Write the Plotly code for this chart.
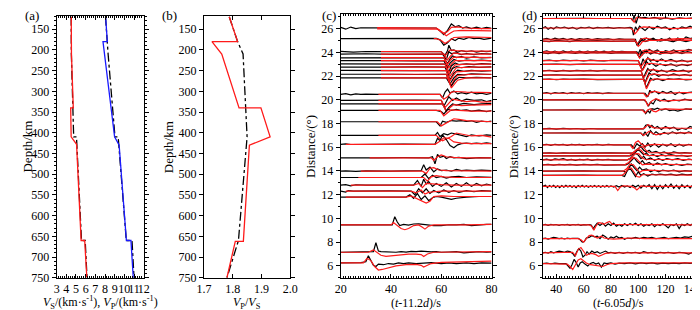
import plotly.graph_objects as go

# ---------------- data: panel (a) ----------------
VS_DEPTH = [120, 180, 210, 340, 340, 410, 428, 660, 660, 750]
VS_MODEL = [4.51, 4.53, 4.53, 4.72, 4.45, 4.50, 5.06, 5.53, 5.90, 6.12]
VS_REF_DEPTH = [120, 210, 410, 410, 660, 660, 750]
VS_REF = [4.50, 4.52, 4.76, 5.05, 5.57, 5.95, 6.14]
VP_DEPTH = [120, 180, 180, 410, 430, 660, 660, 750]
VP_MODEL = [8.06, 8.24, 7.79, 8.99, 9.46, 10.21, 10.68, 10.92]
VP_REF_DEPTH = [120, 210, 410, 410, 660, 660, 750]
VP_REF = [8.05, 8.32, 9.03, 9.36, 10.20, 10.79, 11.00]

# ---------------- data: panel (b) ----------------
R_DEPTH = [120, 180, 180, 210, 340, 340, 410, 430, 662, 662, 750]
R_MODEL = [1.788, 1.817, 1.728, 1.762, 1.822, 1.898, 1.930, 1.858, 1.837, 1.809, 1.780]
R_REF_DEPTH = [120, 180, 210, 300, 410, 660, 750]
R_REF = [1.788, 1.817, 1.836, 1.843, 1.850, 1.820, 1.780]

# ---------------- data: panel (c) waveforms (time, amplitude pairs) ----------------
C_DIST = [26.05, 25.95, 25.15, 24.05, 23.85, 23.55, 23.3, 23.0, 22.75, 22.45, 22.15, 21.85,
          20.45, 19.95, 19.65, 19.1, 18.15, 17.0, 16.25, 15.1, 13.98, 13.45, 12.8, 12.3, 11.8,
          9.45, 7.15, 6.25]
C_BLACK = [
    [20,0.05, 22,-0.1, 24,0.08, 26,-0.05, 28,0.02, 40,0, 52,0.02, 58,0, 59.5,-0.25, 61,-0.55, 62.5,-0.2, 64,0.35, 65.5,0.1, 67,0.2, 68.5,0, 70,0.1, 72,-0.05, 74,0.08, 76,-0.05, 78,0.05, 80,-0.02],
    None,
    [20,0, 30,0.02, 40,-0.02, 50,0, 58,0.02, 59.5,-0.1, 61,-0.55, 62.5,-0.35, 64,0, 65.5,-0.15, 67,0.05, 69,-0.05, 71,0.1, 73,0, 75,0.05, 77,-0.05, 80,0.05],
    [20,0.03, 25,-0.03, 30,0.02, 40,0, 50,0.02, 60,0, 61.5,-0.3, 62.5,0.1, 63,0.55, 64,0.1, 65,0.15, 66.5,-0.05, 68,0.1, 70,0, 72,0.08, 74,-0.03, 76,0.05, 78,0, 80,0.05],
    [20,0, 30,0.03, 40,-0.02, 50,0, 60.5,0, 62,-0.45, 63,0.2, 64,0.05, 66,0.1, 68,-0.05, 70,0.05, 73,-0.05, 76,0.05, 80,0],
    [20,-0.02, 30,0, 40,0.02, 50,0, 61,0, 62.5,-0.5, 63.5,-0.1, 64.5,0.15, 66,0, 68,0.08, 70,-0.04, 73,0.06, 76,-0.02, 80,0.03],
    [20,0, 30,0.02, 40,0, 50,-0.02, 61,0, 62.5,-0.6, 63.5,-0.2, 65,0.1, 67,-0.05, 70,0.05, 73,0, 76,0.05, 80,-0.02],
    [20,0.02, 30,0, 40,0.02, 50,0, 61.5,0, 63,-0.65, 64,-0.15, 65.5,0.1, 67,-0.03, 70,0.03, 73,-0.03, 76,0.04, 80,0],
    [20,0, 30,-0.02, 40,0, 50,0.02, 61.5,0, 63,-0.7, 64.5,-0.1, 66,0.05, 68,-0.05, 71,0.05, 75,-0.02, 80,0.03],
    [20,0.02, 30,0, 40,-0.02, 50,0, 62,0, 63.5,-0.75, 65,-0.2, 66.5,0.05, 69,-0.05, 72,0.03, 76,-0.03, 80,0],
    [20,0, 30,0.02, 40,0, 50,-0.02, 62,0, 63.5,-0.8, 65,-0.3, 66.5,0, 69,-0.05, 72,0.03, 76,0, 80,-0.02],
    [20,0, 30,0, 40,0.02, 50,0, 62,0, 64,-0.7, 65.5,-0.2, 67,0.05, 70,0, 74,0.03, 80,0],
    [20,0, 22,0.06, 24,-0.04, 26,0.05, 28,0, 30,0.03, 35,0, 45,0.02, 55,0, 59.5,0, 60.5,-0.3, 61.5,0.2, 62.5,0.45, 63.5,0.1, 65,0.3, 66.5,0.05, 68,0.15, 70,0.05, 72,0.2, 74,0.05, 76,0.1, 78,0, 80,0.1],
    [20,0, 30,0.02, 40,0, 50,0.02, 60,0, 61,-0.5, 62,-0.1, 63,0.3, 64.5,0, 66,0.2, 68,-0.05, 70,0.1, 73,0, 76,0.05, 78,-0.1, 80,0],
    [20,0, 40,0, 60.5,0, 62,-0.6, 63,-0.3, 64.5,0, 66,-0.1, 69,0.05, 73,-0.05, 76,0, 80,0.05],
    [20,0, 40,0.02, 58,0, 60,-0.1, 61,-0.3, 62.5,0.1, 64,0, 66,0.1, 68,0, 70,0.05, 72,-0.05, 75,0.03, 78,-0.1, 80,0],
    [20,0, 30,0.02, 45,0, 58,0, 59.5,-0.35, 60.5,0.05, 62,-0.05, 64,0.1, 66,0.05, 68,0.1, 70,0.02, 72,0.08, 74,-0.05, 76,0.05, 78,0, 80,0.05],
    [20,0, 30,0.02, 45,0, 57.5,0, 58.5,0.25, 59.5,-0.1, 61,0.15, 62.5,0.05, 64,0.2, 66,0.1, 68,0, 70,-0.1, 72,0.05, 75,-0.05, 78,0.05, 80,0],
    [20,0, 22,0.03, 24,-0.02, 30,0, 45,0.02, 57.5,0, 58.5,0.5, 59.5,0.3, 60.5,0.8, 62,0.4, 63.5,-0.1, 65,-0.3, 66.5,-0.05, 68,0.05, 70,0.1, 72,0.05, 74,0.1, 76,0.05, 78,0.12, 80,0.05],
    [20,0, 25,0.02, 35,0, 45,0.02, 55,0, 56.5,0.1, 57.5,-0.5, 58.5,0.3, 59.5,0.05, 61,0.15, 62,-0.05, 63.5,0.1, 65,0, 67,0.05, 70,-0.05, 75,0.03, 80,0],
    [20,0, 22,0.03, 26,-0.02, 30,0.02, 40,0, 50,0.02, 52,0.05, 53,0.55, 54,0.1, 55.5,0.35, 57,-0.05, 58.5,0.2, 60,0.05, 62,0.1, 64,0, 66,0.15, 68,0.05, 70,0.1, 73,0.05, 76,0.1, 80,0.05],
    [20,0, 30,0.02, 40,0, 52,0, 53.5,0.3, 55,-0.1, 56.5,0.2, 58,0, 60,0.1, 62,-0.05, 64,0.05, 67,0.1, 70,0, 74,0.05, 78,0, 80,0.02],
    [20,0, 22,0.05, 24,-0.05, 26,0.04, 30,0, 45,0.02, 49,0, 50.5,0.4, 52,-0.1, 53,0.5, 54,0.1, 55,0.3, 56.5,-0.1, 58,0.15, 60,-0.1, 62,0.2, 64,-0.15, 66,0.15, 68,-0.1, 70,0.2, 72,-0.1, 74,0.15, 76,-0.05, 78,0.1, 80,0],
    [20,0, 22,-0.08, 23,0.05, 25,0, 40,0.02, 48,0, 49.5,-0.3, 51,0.2, 52.5,-0.15, 54,0.2, 55.5,-0.2, 57,0.05, 59,-0.15, 61,0.1, 63,-0.1, 65,0.05, 67,-0.1, 70,0.05, 73,-0.05, 76,0.05, 80,0],
    [20,0, 30,0.02, 40,0, 46,0, 47.5,0.2, 49,-0.1, 50.5,0.3, 52,-0.2, 53.5,0.1, 55,-0.3, 56.5,-0.05, 58,0.05, 60,0, 62,-0.1, 64,-0.2, 66,-0.1, 70,0, 75,0.05, 80,0.05],
    [20,0, 30,0.01, 40.5,0, 41.5,0.7, 42.5,0.25, 43.5,-0.05, 45,0.05, 47,-0.02, 49,0.08, 51,0.1, 53,0.05, 55,0, 57,-0.05, 60,-0.05, 63,0.02, 66,0, 69,0.05, 72,-0.05, 75,0.02, 78,0.05, 80,0.05],
    [20,0, 25,0.02, 30,0, 33,0.05, 34,0.8, 35,0.1, 36,0.05, 38,0.02, 40,0.05, 42,0, 44,0.05, 46,0.02, 48,0.07, 50,0.05, 52,0.1, 54,0.05, 56,0.03, 58,0.05, 60,0, 63,0.02, 66,0.05, 69,-0.05, 72,0, 75,0.05, 78,0, 80,0.02],
    [20,0, 25,0, 28,0.02, 30,0.1, 31,0.6, 32,0.2, 33,-0.2, 34,-0.3, 35,-0.1, 37,-0.15, 39,-0.05, 41,-0.1, 43,0, 45,-0.05, 47,0, 50,-0.05, 53,0, 56,0.02, 60,-0.05, 63,0, 66,-0.05, 70,0, 73,-0.05, 76,0, 80,-0.02],
]
C_RED = [
    [34.5,0.03, 58,0, 59.5,-0.2, 61,-0.45, 62.5,-0.3, 64,0.05, 66,0.1, 70,0, 75,-0.05, 80,-0.05],
    [34.5,0.02, 58.5,0, 60.5,-0.3, 62,-0.55, 63.5,-0.35, 65,-0.15, 68,-0.1, 80,-0.15],
    [57,0, 58,0, 60,-0.15, 61.5,-0.4, 63,-0.2, 65,0.1, 70,0.15, 80,0.1],
    [36,0.02, 60,0, 61.5,-0.35, 62.5,-0.1, 63.5,0.15, 66,0.1, 70,0.05, 80,0.05],
    [36,0, 61,0, 62.5,-0.5, 63.5,-0.2, 65,0.1, 68,0, 80,0],
    [36,0, 61,0, 62.5,-0.55, 63.5,-0.25, 65,0.05, 70,0.02, 80,0],
    [36,0, 61.5,0, 63,-0.6, 64,-0.3, 65.5,0, 70,0, 80,0],
    [36,0, 61.5,0, 63,-0.7, 64,-0.4, 65.5,-0.05, 70,0, 80,0],
    [36,0, 62,0, 63.5,-0.75, 64.5,-0.45, 66,-0.05, 72,0, 80,0],
    [36,0, 62,0, 63.5,-0.85, 64.5,-0.5, 66,-0.1, 72,-0.02, 80,0],
    [36,0, 62,0, 64,-0.95, 65,-0.5, 66.5,-0.1, 72,0, 80,0],
    [36,0, 62.5,0, 64,-0.85, 65,-0.6, 66.5,-0.2, 70,0, 80,0],
    [35,0, 59.5,0, 61,-0.4, 62.5,-0.2, 64,0.2, 66,0.25, 70,0.2, 75,0.15, 80,0.15],
    [35,0, 60,0, 61.5,-0.6, 63,-0.2, 64.5,0.1, 67,0, 70,-0.1, 73,-0.05, 76,-0.15, 80,-0.1],
    [35,0, 60.5,0, 62,-0.65, 63.5,-0.3, 65,-0.05, 68,-0.15, 72,-0.1, 80,-0.05],
    [35,0, 59.5,0, 61,-0.45, 62.5,-0.2, 64,0.05, 67,0, 72,-0.05, 80,-0.05],
    [35,0, 58.5,0, 60,-0.35, 61.5,-0.15, 63,0.05, 65,0.25, 67,0.2, 70,0.1, 75,0.05, 80,0],
    [35,0, 58,0, 59.5,-0.3, 60.5,-0.45, 62,-0.3, 64,-0.1, 66,0.2, 68,0.1, 72,-0.05, 76,0, 80,-0.15],
    [22,0, 57.5,0, 59,0.2, 61,0.55, 63,0.5, 65,0.2, 68,0.1, 72,0.05, 80,0.05],
    [31.5,0, 56,0, 57,-0.2, 58.5,0.1, 60,0.25, 62,0.1, 65,0.05, 70,0, 80,0],
    [28,0, 52.5,0, 54,-0.2, 55.5,0.25, 57,0.3, 59,0.1, 62,0.05, 70,0.02, 80,0],
    [27,0, 53,0, 54.5,-0.3, 56,0.05, 58,0.15, 61,0.05, 66,0, 80,0],
    [24,0, 49,0, 51,0.15, 52.5,-0.2, 54,0.15, 56,0.1, 60,0.05, 65,0, 80,0],
    [22,0, 48,0, 50,-0.15, 52,0.1, 53.5,-0.25, 55,-0.1, 57,-0.05, 60,0, 80,0],
    [22,0, 46,0, 48,0.1, 50,-0.1, 52.5,-0.3, 54,-0.5, 55.5,-0.35, 57,0.05, 60,0.1, 65,0.05, 80,0.05],
    [20,0, 40,0, 41,0.2, 42,0.05, 44,-0.3, 45.5,-0.4, 47,-0.3, 49,-0.05, 51,0, 52.5,-0.2, 53.5,-0.35, 55,-0.1, 57,0, 60,0.02, 70,0, 80,0.05],
    [20,0, 31,0, 33,0.2, 34.5,-0.05, 36,-0.25, 38,-0.35, 40,-0.3, 43,-0.2, 47,-0.15, 50,-0.15, 52,-0.2, 53,-0.35, 54.5,-0.15, 57,0, 62,0.02, 70,0.03, 80,0.05],
    [20,0, 29,0, 30.5,0.4, 32,0.2, 33.5,-0.3, 35,-0.6, 36.5,-0.55, 39,-0.4, 42,-0.25, 46,-0.15, 50,-0.12, 52,-0.2, 53,-0.35, 54.5,-0.2, 56,-0.05, 60,0.05, 70,0.1, 80,0.15],
]

# ---------------- data: panel (d) waveforms ----------------
D_DIST = [26.85, 26.05, 25.1, 24.95, 24.05, 23.95, 23.3, 22.98, 22.44, 22.08, 21.72,
          20.55, 20.0, 19.14, 17.55, 17.2, 16.2, 15.5, 15.27, 14.94, 14.52, 13.98, 13.63,
          12.7, 9.45, 8.3, 7.1, 6.2]
D_BLACK = [
    [30,0, 40,0.02, 50,0, 60,0.02, 70,0, 80,0.02, 90,0, 95,0, 96,-0.2, 97,0.3, 98.5,-0.4, 100,0.2, 102,0.05, 105,0.1, 108,0, 112,0.1, 116,-0.05, 120,0.05, 125,-0.05, 130,0.05, 135,0, 140,0.05, 143,0],
    [30,0, 32,0.1, 34,-0.1, 36,0.05, 38,-0.08, 40,0.1, 43,0, 46,0.08, 49,-0.05, 52,0.05, 55,-0.1, 58,0.05, 61,0, 64,0.08, 67,-0.05, 70,0.05, 74,0, 78,0.05, 82,-0.03, 86,0.04, 90,0, 94,0.05, 95.5,0, 96.5,-0.6, 98,0.1, 99.5,-0.2, 101,0.15, 103,-0.05, 105,-0.2, 108,0.1, 111,-0.1, 114,0.15, 117,0, 120,0.1, 123,-0.15, 126,0.05, 129,-0.1, 132,0.1, 135,0, 138,0.15, 141,0, 143,0.1],
    [30,0, 33,0.08, 36,-0.05, 39,0.1, 42,0, 45,0.08, 48,-0.05, 51,0.05, 54,-0.05, 57,0.05, 60,0, 63,0.06, 66,-0.04, 70,0.05, 74,0, 78,0.04, 82,-0.04, 86,0.03, 90,0, 96,0.02, 98,0, 99,-0.5, 100.5,-0.2, 102,0.05, 104,-0.1, 106,0.1, 108,-0.05, 111,0.1, 114,-0.15, 117,0.05, 120,-0.1, 123,0.1, 126,-0.2, 129,0.1, 132,-0.1, 135,0.2, 138,0.05, 141,0.15, 143,0.05],
    [30,0, 35,-0.05, 40,0.05, 45,0, 50,-0.05, 55,0.05, 60,0, 70,0.03, 80,-0.02, 90,0, 98,0, 99.5,-0.4, 101,-0.1, 103,0.1, 105,-0.05, 108,0.05, 112,0.15, 116,0, 120,0.1, 125,-0.05, 130,0.1, 135,-0.05, 140,0.1, 143,0],
    [30,0, 33,0.08, 36,-0.05, 39,0.06, 42,-0.06, 45,0.08, 48,-0.04, 51,0.06, 54,-0.06, 57,0.05, 60,-0.05, 63,0.06, 66,-0.05, 69,0.07, 72,-0.04, 75,0.05, 78,-0.05, 81,0.05, 84,0, 88,0.04, 92,0, 97,0.02, 99,0, 100,-0.2, 101.5,0.2, 103,-0.3, 104.5,0.1, 106,-0.1, 108,0.2, 111,0, 114,0.15, 117,-0.1, 120,0.1, 123,0, 126,0.15, 130,-0.1, 133,0.05, 137,0.2, 140,0.1, 143,0.15],
    [30,0, 34,-0.06, 38,0.05, 42,-0.05, 46,0.06, 50,0, 54,-0.05, 58,0.05, 62,-0.03, 66,0.05, 70,0, 75,0.04, 80,-0.03, 85,0.03, 90,0, 99,0, 101,-0.4, 102.5,0.1, 104,-0.05, 106,0.15, 109,-0.1, 112,0.05, 116,-0.1, 120,0.05, 124,-0.05, 128,0.1, 132,-0.05, 136,0.1, 140,0, 143,0.05],
    [30,0, 35,0.04, 40,-0.03, 45,0.04, 50,0, 55,0.03, 60,-0.03, 65,0.04, 70,0, 75,-0.03, 80,0.03, 85,0, 90,0.02, 100,0, 102,-0.45, 103.5,0.15, 105,-0.2, 107,0.25, 109,-0.05, 111,0.1, 114,-0.1, 117,0.15, 120,-0.05, 124,0.1, 128,-0.1, 132,0.05, 136,-0.1, 140,0, 143,-0.05],
    [30,0, 40,0.03, 50,-0.02, 60,0.03, 70,0, 80,0.02, 90,0, 101,0, 103,-0.5, 104.5,-0.1, 106,0.25, 108,0, 110,0.1, 113,-0.15, 116,0.05, 120,-0.1, 124,0.05, 128,-0.15, 132,0, 136,-0.1, 140,0.05, 143,0],
    [30,0, 35,0.05, 40,-0.04, 45,0.04, 50,-0.03, 55,0.04, 60,0, 65,0.03, 70,-0.03, 75,0.03, 80,0, 85,0.02, 90,0, 102,0, 104,-0.55, 105.5,-0.15, 107,0.2, 109,-0.05, 111,0.15, 114,-0.1, 117,0.05, 121,-0.1, 125,0.1, 129,-0.05, 133,0.05, 137,-0.1, 140,0.05, 143,0],
    [30,0, 40,0.03, 50,-0.03, 60,0.02, 70,0, 80,0.02, 90,0, 103,0, 105,-0.65, 106.5,-0.2, 108,0.2, 110,0, 112,0.1, 115,-0.1, 118,0.05, 122,-0.05, 126,0.1, 130,-0.05, 134,0.05, 138,-0.05, 143,0.02],
    [30,0, 35,0.03, 40,-0.03, 45,0.02, 50,0, 60,0.03, 70,-0.02, 80,0.02, 90,0, 104,0, 106,-0.7, 107.5,-0.3, 109,0.1, 111,-0.05, 114,0.05, 118,-0.1, 122,0.05, 126,0, 130,0.05, 135,-0.05, 140,0, 143,0.02],
    [30,0, 33,0.06, 36,-0.05, 39,0.06, 42,0, 45,0.05, 48,-0.04, 51,0.05, 54,0, 57,0.04, 60,-0.04, 63,0.05, 66,0, 70,0.04, 74,-0.03, 78,0.03, 82,0, 86,0.03, 90,0, 105,0, 107,-0.3, 108.5,0.25, 110,0.05, 112,0.2, 115,-0.05, 118,0.15, 121,0, 124,0.15, 127,-0.1, 130,0.1, 133,-0.05, 136,0.05, 140,0.1, 143,0.05],
    [30,0, 40,0.02, 50,0, 60,0.02, 70,0, 80,0.02, 90,0, 104,0, 106,-0.2, 107.5,-0.55, 109,-0.2, 111,-0.35, 113,0.05, 116,-0.1, 119,0.05, 122,-0.15, 126,0, 130,-0.1, 134,0.05, 138,-0.05, 143,0],
    [30,0, 40,0.02, 50,0, 60,0.02, 70,0, 80,0.02, 90,0, 104,0, 105.5,-0.3, 107,-0.05, 108.5,-0.25, 110,0.1, 112,0.05, 114,0.15, 117,0, 120,0.1, 123,-0.05, 126,0, 129,-0.1, 132,0, 135,0.1, 138,0.05, 143,0.1],
    [30,0, 35,0.04, 40,-0.03, 45,0.04, 50,0, 55,0.03, 60,-0.03, 65,0.03, 70,0, 80,0.02, 90,-0.02, 100,0, 104,0, 105.5,0.3, 107,0.35, 108.5,0.1, 110,0.3, 112,0.05, 114,0.2, 117,-0.05, 120,0.2, 123,0, 126,0.15, 129,-0.1, 132,0.05, 135,-0.05, 138,0.2, 141,0.1, 143,0.15],
    [30,0, 40,0.02, 50,0, 60,0.02, 70,0, 80,0.02, 90,0, 102,0, 103.5,-0.2, 105,0.1, 107,-0.3, 109,0.2, 111,-0.1, 113,0.1, 116,-0.15, 119,0.05, 122,-0.1, 125,0.1, 128,-0.05, 131,0.05, 134,-0.05, 137,0.1, 140,-0.05, 143,0],
    [30,0, 33,0.05, 36,-0.04, 39,0.05, 42,0, 45,0.04, 48,-0.05, 51,0.04, 54,0, 57,0.04, 60,-0.04, 63,0.03, 66,0, 70,0.04, 74,-0.03, 78,0.04, 82,0, 86,0.03, 90,0, 95,0, 97,-0.3, 99,0.1, 101,-0.1, 103,0.1, 105,-0.2, 107,0.15, 109,-0.15, 112,0.1, 115,-0.2, 118,0.05, 121,-0.1, 124,0.1, 127,-0.15, 130,0.05, 133,-0.1, 137,0.05, 140,-0.05, 143,0],
    [30,0, 35,0.03, 40,-0.02, 45,0.03, 50,0, 60,0.02, 70,0, 80,0.02, 90,0, 96,0, 98,0.2, 100,0.4, 102,0.55, 104,0.25, 106,0.1, 108,0.25, 110,0.05, 113,0.15, 116,0, 119,0.1, 122,-0.05, 126,0.1, 130,0, 134,0.05, 138,0, 143,0.05],
    [30,0, 40,0.02, 50,0, 60,0.02, 70,0, 80,0.02, 90,0, 94,0, 96,0.15, 98,0.3, 100,0.55, 102,0.3, 104,0.1, 106,0.25, 108,0, 111,0.1, 114,-0.05, 117,0.1, 120,0, 124,0.1, 128,0, 132,0.05, 136,-0.05, 140,0.05, 143,0],
    [30,0, 33,0.06, 36,-0.05, 39,0.08, 42,0.02, 45,0.1, 48,-0.03, 51,0.04, 54,-0.05, 57,0.04, 60,0, 63,0.05, 66,-0.04, 70,0.04, 74,0, 78,0.03, 82,-0.03, 86,0, 92,0, 94,0.1, 96,0.3, 98,0.55, 100,0.4, 102,0.1, 104,0.3, 106,0, 109,0.15, 112,-0.05, 115,0.1, 118,-0.05, 121,0.1, 125,0, 129,0.1, 133,-0.05, 137,0.05, 140,0, 143,0.05],
    [30,0, 34,0.04, 38,-0.03, 42,0.03, 46,0, 50,0.04, 55,-0.03, 60,0.03, 65,0, 70,0.03, 75,-0.02, 80,0.02, 85,0, 91,0, 93,0.1, 95,0.35, 97,0.6, 99,0.3, 101,0.1, 103,0.35, 105,0.05, 108,0.2, 111,-0.05, 114,0.15, 117,0, 120,0.1, 124,-0.05, 128,0.05, 132,-0.05, 136,0.05, 140,0, 143,0.05],
    [30,0, 40,0.02, 50,0, 60,0.02, 70,0, 80,0.02, 89,0, 91,-0.1, 93,0.3, 95,0.6, 97,0.3, 99,0.05, 101,0.35, 103,0.1, 106,0.2, 109,-0.05, 112,0.1, 115,-0.05, 118,0.1, 122,0, 126,0.1, 130,-0.05, 134,0.05, 138,0, 143,0.05],
    [30,0, 40,0.02, 50,0, 60,0.02, 70,0, 80,0.02, 88,0, 90,-0.1, 92,0.4, 94,0.6, 96,0.2, 98,-0.1, 100,0.3, 102,0, 104,0.15, 107,-0.05, 110,0.1, 113,0.05, 116,0.1, 120,0.05, 124,0.1, 128,0, 132,0.1, 136,0.05, 140,0.1, 143,0.05],
    [30,0, 32,0.1, 33.5,-0.1, 35,0.08, 36.5,-0.05, 38,0.1, 39.5,-0.08, 41,0.06, 42.5,-0.1, 44,0.08, 45.5,-0.06, 47,0.1, 48.5,-0.05, 50,0.07, 51.5,-0.08, 53,0.05, 54.5,-0.1, 56,0.08, 57.5,-0.05, 59,0.1, 60.5,-0.06, 62,0.05, 63.5,-0.08, 65,0.06, 66.5,-0.05, 68,0.08, 69.5,-0.06, 71,0.05, 72.5,-0.08, 74,0.06, 75.5,-0.05, 77,0.07, 78.5,-0.05, 80,0.05, 82,-0.05, 84,0.06, 86,-0.05, 88,0.08, 90,-0.06, 92,0.05, 94,-0.1, 96,0.1, 98,-0.05, 100,0.1, 102,-0.15, 104,0.1, 106,-0.05, 108,0.15, 110,-0.2, 112,0.15, 114,-0.25, 116,0.1, 118,-0.2, 120,0.15, 122,-0.1, 124,0.2, 126,-0.15, 128,0.1, 130,-0.2, 132,0.15, 134,-0.1, 136,0.1, 138,-0.15, 140,0.15, 142,-0.1, 143,0],
    [30,0, 32,0.05, 34,-0.04, 36,0.05, 38,0, 40,0.04, 42,-0.04, 44,0.04, 46,0, 48,0.05, 50,-0.03, 52,0.04, 54,0, 56,0.05, 58,-0.04, 60,0.03, 62,0, 64,0.04, 65.5,0, 67,-0.3, 68.5,-0.05, 70,0.15, 72,-0.05, 74,0.15, 76,-0.1, 78,0.1, 80,-0.05, 82,0.15, 84,-0.1, 86,0.05, 88,-0.1, 90,0.1, 92,-0.05, 94,0.1, 96,0, 98,0.15, 100,-0.05, 102,0.1, 104,-0.1, 106,0.05, 108,-0.05, 110,0.1, 112,-0.15, 114,0.05, 116,-0.05, 118,0.1, 120,-0.05, 122,-0.25, 124,0.05, 126,-0.05, 128,0.1, 130,-0.3, 132,0.05, 134,-0.05, 136,0.1, 138,-0.05, 140,0.1, 143,0],
    [30,0, 32,0.04, 34,-0.04, 36,0.06, 38,0.1, 40,0.06, 42,0, 44,0.04, 46,-0.03, 48,0.04, 50,0, 52,0.03, 54,0, 56,0.02, 57.5,-0.1, 59,-0.3, 60.5,-0.25, 62,0.05, 64,0.1, 66,0.25, 68,0.15, 70,0.2, 72,0, 74,0.3, 76,0.15, 78,-0.05, 80,0.15, 82,0.05, 84,0.2, 86,0.05, 88,0.1, 90,-0.05, 92,0.05, 95,0, 98,0.1, 101,0, 104,0.1, 107,0.05, 110,0.1, 113,0, 116,0.05, 119,0.1, 122,0, 125,0.05, 128,0.1, 131,0.05, 134,0.15, 137,0.1, 140,0.2, 143,0.1],
    [30,0, 32,0.05, 34,-0.03, 36,0.1, 38,0, 40,0.05, 42,0.15, 44,0.1, 46,0.05, 48,0.15, 50,0.1, 52,-0.05, 53.5,-0.3, 55,0.1, 56.5,0.35, 58,0.15, 59.5,-0.35, 61,-0.2, 62.5,0.1, 64,-0.1, 66,0.15, 68,0, 70,0.1, 72,-0.05, 74,0.05, 76,0.15, 78,0, 80,0.05, 83,-0.05, 86,0.05, 89,-0.05, 92,0.05, 95,0, 98,0.05, 101,-0.05, 104,0.1, 107,0, 110,0.05, 113,-0.05, 116,0.05, 119,0, 122,0.05, 126,-0.05, 130,0.05, 134,0, 137,-0.1, 140,0.05, 143,0],
    [30,0, 33,0.03, 36,-0.02, 39,0.03, 42,0, 45,0.03, 47,0, 48.5,-0.2, 50,-0.4, 51.5,-0.1, 53,0.35, 54.5,0.1, 56,-0.3, 57.5,0.05, 59,0.15, 61,-0.05, 63,-0.2, 65,0, 67,0.1, 69,-0.05, 71,0.05, 73,-0.3, 75,0.05, 77,0, 80,0.05, 83,-0.05, 86,0.03, 90,0, 94,0.05, 98,-0.03, 102,0.05, 106,0, 110,0.05, 114,-0.03, 118,0.03, 122,0, 126,0.04, 130,0, 134,0.05, 138,0.02, 143,0.05],
]
D_RED = [
    [30,0, 95,0, 97,-0.3, 99,0.1, 101,0.05, 105,0, 115,0.05, 125,0, 143,0.02],
    [30,0, 94,0, 96,-0.15, 97.5,-0.5, 99,-0.3, 101,0, 104,0.1, 108,0.05, 115,0.02, 125,-0.05, 135,0, 143,0.02],
    [30,0, 97,0, 99,-0.35, 100.5,-0.25, 102,0, 105,0.1, 110,0, 115,-0.05, 120,0, 130,0.05, 143,0.02],
    [30,0, 98,0, 100,-0.45, 101.5,-0.3, 103,-0.05, 108,0.05, 115,0.05, 125,0.1, 135,0.05, 143,0.05],
    [30,0, 98,0, 100,-0.3, 101.5,-0.1, 103,0.05, 106,0.15, 110,0.05, 120,0, 130,0.1, 143,0.15],
    [30,0, 99,0, 101,-0.45, 102.5,-0.2, 104,0, 108,0.05, 115,-0.05, 125,0, 143,0],
    [30,0, 100,0, 102,-0.5, 103.5,-0.3, 105,0, 107,0.2, 110,0.05, 118,0, 130,-0.05, 143,-0.05],
    [30,0, 101,0, 103,-0.55, 104.5,-0.3, 106,0.05, 109,0.1, 115,0, 125,-0.05, 143,-0.02],
    [30,0, 102,0, 104,-0.6, 105.5,-0.35, 107,0.05, 110,0.1, 116,0, 126,-0.05, 143,0],
    [30,0, 103,0, 105,-0.7, 106.5,-0.4, 108,0, 111,0.1, 117,0, 130,0, 143,0],
    [30,0, 104,0, 106,-0.8, 107.5,-0.5, 109,-0.1, 112,0.05, 118,0, 143,0],
    [30,0, 104,0, 106,-0.3, 107.5,-0.15, 109,0.1, 112,0.15, 116,0.05, 122,0, 130,0.05, 143,0.05],
    [30,0, 105,0, 107,-0.5, 108.5,-0.3, 110,-0.1, 113,0.1, 116,-0.05, 120,-0.1, 126,-0.05, 135,0, 143,0],
    [30,0, 103,0, 105,-0.25, 107,0, 109,0.1, 111,-0.1, 113,-0.15, 116,0.05, 120,0.1, 125,0.05, 130,0.05, 143,0.1],
    [30,0, 103,0, 105,0.1, 107,0.35, 109,0.25, 111,0.1, 115,0.05, 120,0.1, 130,0.05, 143,0.05],
    [30,0, 102,0, 104,-0.2, 106,-0.05, 108,0.15, 110,0, 113,-0.15, 117,-0.05, 122,0, 132,0.02, 143,0],
    [30,0, 94,0, 96,-0.3, 98,0.2, 100,0.35, 102,0.1, 105,-0.1, 108,0, 112,0.05, 120,0, 143,0],
    [30,0, 95,0, 98,0.15, 101,0.5, 103.5,0.55, 106,0.2, 108,0.05, 113,0.05, 125,0, 143,0],
    [30,0, 93,0, 96,0.2, 99,0.55, 102,0.5, 104.5,0.15, 107,0.05, 112,0.05, 125,0, 143,0],
    [30,0, 92,0, 95,0.2, 98,0.55, 100.5,0.5, 103,0.15, 105,0.05, 110,0.05, 120,0.05, 143,0.02],
    [30,0, 90,0, 93,0.2, 96,0.6, 98.5,0.55, 101,0.2, 103,0, 106,0.05, 112,0.05, 125,0.02, 143,0],
    [30,0, 89,0, 91.5,0.2, 94,0.6, 96.5,0.55, 99,0.15, 101,-0.1, 103,0.05, 107,0.1, 115,0.05, 130,0, 143,0],
    [30,0, 88,0, 90,0.15, 92.5,0.55, 95,0.6, 97,0.2, 99,-0.1, 101,-0.15, 103,0.05, 108,0.05, 120,0.02, 143,0.02],
    [30,0, 83,0, 85,-0.35, 87,-0.05, 89,0.05, 92,0.02, 95,0, 97,-0.1, 99,-0.3, 100.5,-0.15, 102,0.05, 105,0, 115,0, 143,0],
    [30,0, 64,0, 66,-0.1, 67.5,-0.45, 69,-0.1, 71,0.2, 73,0.15, 75,0.05, 77,0.2, 79,0.3, 81,0.05, 83,0.05, 86,0, 90,0.05, 95,0, 100,0.05, 110,0, 120,0.02, 143,0],
    [30,0, 56,0, 58,-0.1, 60,-0.3, 62,0, 64,0.25, 66,0.3, 68,0.15, 70,0.05, 73,0.2, 75,0.05, 78,0, 82,-0.05, 88,0, 95,0.05, 105,0, 120,0.02, 143,0],
    [30,0, 50,0, 52,0.05, 54,-0.25, 56,0.3, 58,0.45, 60,0.1, 62,-0.2, 64,-0.1, 66,-0.05, 69,-0.15, 71,-0.3, 73,-0.2, 76,-0.05, 80,0, 90,0, 100,-0.05, 110,0, 143,0],
    [30,0, 46,0, 48,-0.05, 50,-0.25, 52,-0.5, 54,-0.1, 56,0.3, 58,0.4, 60,0.2, 62,0.05, 65,-0.1, 68,-0.15, 71,-0.2, 74,-0.25, 77,-0.1, 80,0, 90,0.05, 100,0.05, 120,0.05, 143,0.05],
]

DEPTH_TICKS = [150, 200, 250, 300, 350, 400, 450, 500, 550, 600, 650, 700, 750]

# ---------------- figure ----------------
FONT = "Liberation Serif"
RED = "#ff1a1a"
fig = go.Figure()


def line(x, y, color, xa, ya, width=1.2, dash=None):
    fig.add_trace(go.Scatter(x=x, y=y, mode="lines", xaxis=xa, yaxis=ya,
                             line=dict(color=color, width=width, dash=dash),
                             showlegend=False, hoverinfo="skip"))


# panel a
line(VS_REF, VS_REF_DEPTH, "black", "x", "y", 1.3, "dashdot")
line(VS_MODEL, VS_DEPTH, RED, "x", "y", 1.3)
line(VP_REF, VP_REF_DEPTH, "black", "x", "y", 1.3, "dashdot")
line(VP_MODEL, VP_DEPTH, "#1a1aff", "x", "y", 1.3)
# panel b
line(R_REF, R_REF_DEPTH, "black", "x2", "y2", 1.3, "dashdot")
line(R_MODEL, R_DEPTH, RED, "x2", "y2", 1.3)


def waveforms(dists, blacks, reds, xa, ya):
    for d, b, r in zip(dists, blacks, reds):
        if b is not None:
            line(b[0::2], [d + a for a in b[1::2]], "black", xa, ya, 1.2)
        if r is not None:
            line(r[0::2], [d + a for a in r[1::2]], RED, xa, ya, 1.2)


waveforms(C_DIST, C_BLACK, C_RED, "x3", "y3")
waveforms(D_DIST, D_BLACK, D_RED, "x4", "y4")

W, H = 700, 310
ybot = 1 - 276 / H
ytop_ab = 1 - 8.5 / H
ytop_cd = 1 - 6.5 / H

base = dict(showline=True, linecolor="black", linewidth=1, mirror="ticks",
            ticklen=4, tickwidth=1, tickcolor="black",
            showgrid=False, zeroline=False, tickangle=0,
            tickfont=dict(family=FONT, size=12, color="black"))
xc = dict(base, ticks="inside")
yc = dict(base, ticks="outside")


def minor(dt, tick0=0, kind="outside"):
    return dict(dtick=dt, tick0=tick0, ticklen=2, ticks=kind, tickcolor="black")


fig.update_layout(
    width=W, height=H, margin=dict(l=0, r=0, t=0, b=0),
    paper_bgcolor="white", plot_bgcolor="white",
    font=dict(family=FONT, size=12, color="black"),
    xaxis=dict(domain=[41.6 / W, 130.7 / W], range=[3, 12], dtick=1, tick0=3, anchor="y",
               minor=minor(0.2, 0, "inside"), **xc),
    yaxis=dict(domain=[ybot, ytop_ab], range=[750, 119], tickvals=DEPTH_TICKS, anchor="x",
               minor=minor(10), **yc),
    xaxis2=dict(domain=[192.3 / W, 280.7 / W], range=[1.7, 2.0], dtick=0.1, tick0=1.7,
                tickformat=".1f", anchor="y2", **xc),
    yaxis2=dict(domain=[ybot, ytop_ab], range=[750, 119], tickvals=DEPTH_TICKS, anchor="x2", **yc),
    xaxis3=dict(domain=[332.3 / W, 486.7 / W], range=[20, 80], dtick=20, tick0=20, anchor="y3",
                minor=minor(1, 0, "inside"), **xc),
    yaxis3=dict(domain=[ybot, ytop_cd], range=[5, 27.2], dtick=2, tick0=6, anchor="x3",
                minor=minor(1), **yc),
    xaxis4=dict(domain=[539 / W, 696 / W], range=[30, 142.4], dtick=20, tick0=40, anchor="y4",
                minor=minor(2, 0, "inside"), **xc),
    yaxis4=dict(domain=[ybot, ytop_cd], range=[5, 27.2], dtick=2, tick0=6, anchor="x4",
                minor=minor(1), **yc),
)

ann = [
    ("(a)", 16, 8, 0, 13),
    ("(b)", 157, 8, 0, 13),
    ("(c)", 320, 8, 0, 13),
    ("(d)", 526, 8, 0, 13),
    ("Depth/km", 12, 142, -90, 13),
    ("Depth/km", 156, 142, -90, 13),
    ("Distance/(°)", 302, 142, -90, 13),
    ("Distance/(°)", 509, 142, -90, 13),
    ("<i>V</i><sub>S</sub>/(km·s<sup>-1</sup>), <i>V</i><sub>P</sub>/(km·s<sup>-1</sup>)", 86, 301.5, 0, 12),
    ("<i>V</i><sub>P</sub>/<i>V</i><sub>S</sub>", 236, 301.5, 0, 12),
    ("(<i>t</i>-11.2<i>d</i>)/s", 409, 302, 0, 12),
    ("(<i>t</i>-6.05<i>d</i>)/s", 617, 302, 0, 12),
]
for text, x, y, ang, size in ann:
    fig.add_annotation(text=text, x=x / W, y=1 - y / H, xref="paper", yref="paper",
                       showarrow=False, textangle=ang, xanchor="center", yanchor="middle",
                       font=dict(family=FONT, size=size, color="black"))

fig.write_html("out.html")
